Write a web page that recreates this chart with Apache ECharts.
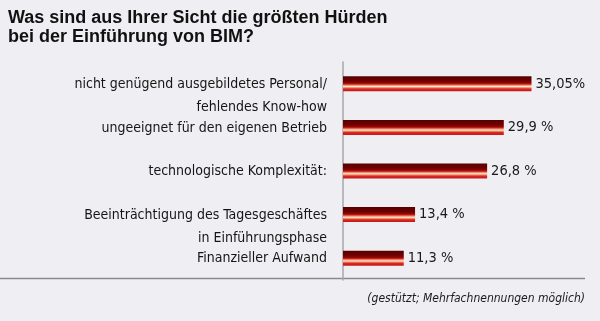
<!DOCTYPE html>
<html>
<head>
<meta charset="utf-8">
<script src="https://cdn.jsdelivr.net/npm/echarts@6/dist/echarts.min.js"></script>
<style>
html,body{margin:0;padding:0;background:#efeff3;}
#chart{width:600px;height:321px;}
</style>
</head>
<body>
<div id="chart"></div>
<script>
var titleText = 'Was sind aus Ihrer Sicht die größten Hürden\nbei der Einführung von BIM?';
var footnote = '(gestützt; Mehrfachnennungen möglich)';
var categories = [
  'nicht genügend ausgebildetes Personal/\nfehlendes Know-how',
  'ungeeignet für den eigenen Betrieb',
  'technologische Komplexität:',
  'Beeinträchtigung des Tagesgeschäftes\nin Einführungsphase',
  'Finanzieller Aufwand'
];
var values = [35.05, 29.9, 26.8, 13.4, 11.3];
var valueLabels = ['35,05%', '29,9 %', '26,8 %', '13,4 %', '11,3 %'];

var narrow = '"DejaVu Sans Condensed", "Liberation Sans Narrow", "Liberation Sans", sans-serif';

var barGradient = new echarts.graphic.LinearGradient(0, 0, 0, 1, [
  {offset: 0, color: '#560000'},
  {offset: 0.3, color: '#6e0000'},
  {offset: 0.45, color: '#900808'},
  {offset: 0.52, color: '#c82018'},
  {offset: 0.6, color: '#ee8a6a'},
  {offset: 0.68, color: '#ffe6cc'},
  {offset: 0.76, color: '#f08a6a'},
  {offset: 0.84, color: '#d82820'},
  {offset: 1, color: '#c81818'}
]);

var chart = echarts.init(document.getElementById('chart'), null, {renderer: 'canvas'});
chart.setOption({
  backgroundColor: '#efeff3',
  animation: false,
  title: {
    text: titleText,
    left: 3,
    top: 4,
    textStyle: {
      fontFamily: '"Liberation Sans", Arial, sans-serif',
      fontWeight: 'bold',
      fontSize: 18,
      lineHeight: 19,
      color: '#111'
    }
  },
  grid: {left: 343, right: 15, top: 62, bottom: 41, containLabel: false},
  xAxis: {
    type: 'value', min: 0, max: 45,
    show: false
  },
  yAxis: {
    type: 'category',
    data: categories,
    inverse: true,
    axisLine: {show: true, lineStyle: {color: '#a8a8ac', width: 1.5}},
    axisTick: {show: false},
    splitLine: {show: false},
    axisLabel: {
      margin: 16,
      align: 'right',
      verticalAlign: 'top',
      padding: [-11, 0, 0, 0],
      lineHeight: 23,
      fontFamily: narrow,
      fontSize: 14,
      color: '#151515'
    }
  },
  series: [{
    type: 'bar',
    data: values,
    barWidth: 15,
    itemStyle: {color: barGradient},
    label: {
      show: true,
      position: 'right',
      distance: 4,
      fontFamily: narrow,
      fontSize: 14.5,
      color: '#1a1a1a',
      formatter: function (p) { return valueLabels[p.dataIndex]; }
    }
  }],
  graphic: [
    {
      type: 'line',
      shape: {x1: 0, y1: 278.5, x2: 585, y2: 278.5},
      style: {stroke: '#8a8a8e', lineWidth: 1.5}
    },
    {
      type: 'text',
      right: 15,
      top: 293,
      style: {
        text: footnote,
        font: 'italic 12px ' + narrow,
        fill: '#1a1a1a',
        textAlign: 'right'
      }
    }
  ]
});
</script>
</body>
</html>
